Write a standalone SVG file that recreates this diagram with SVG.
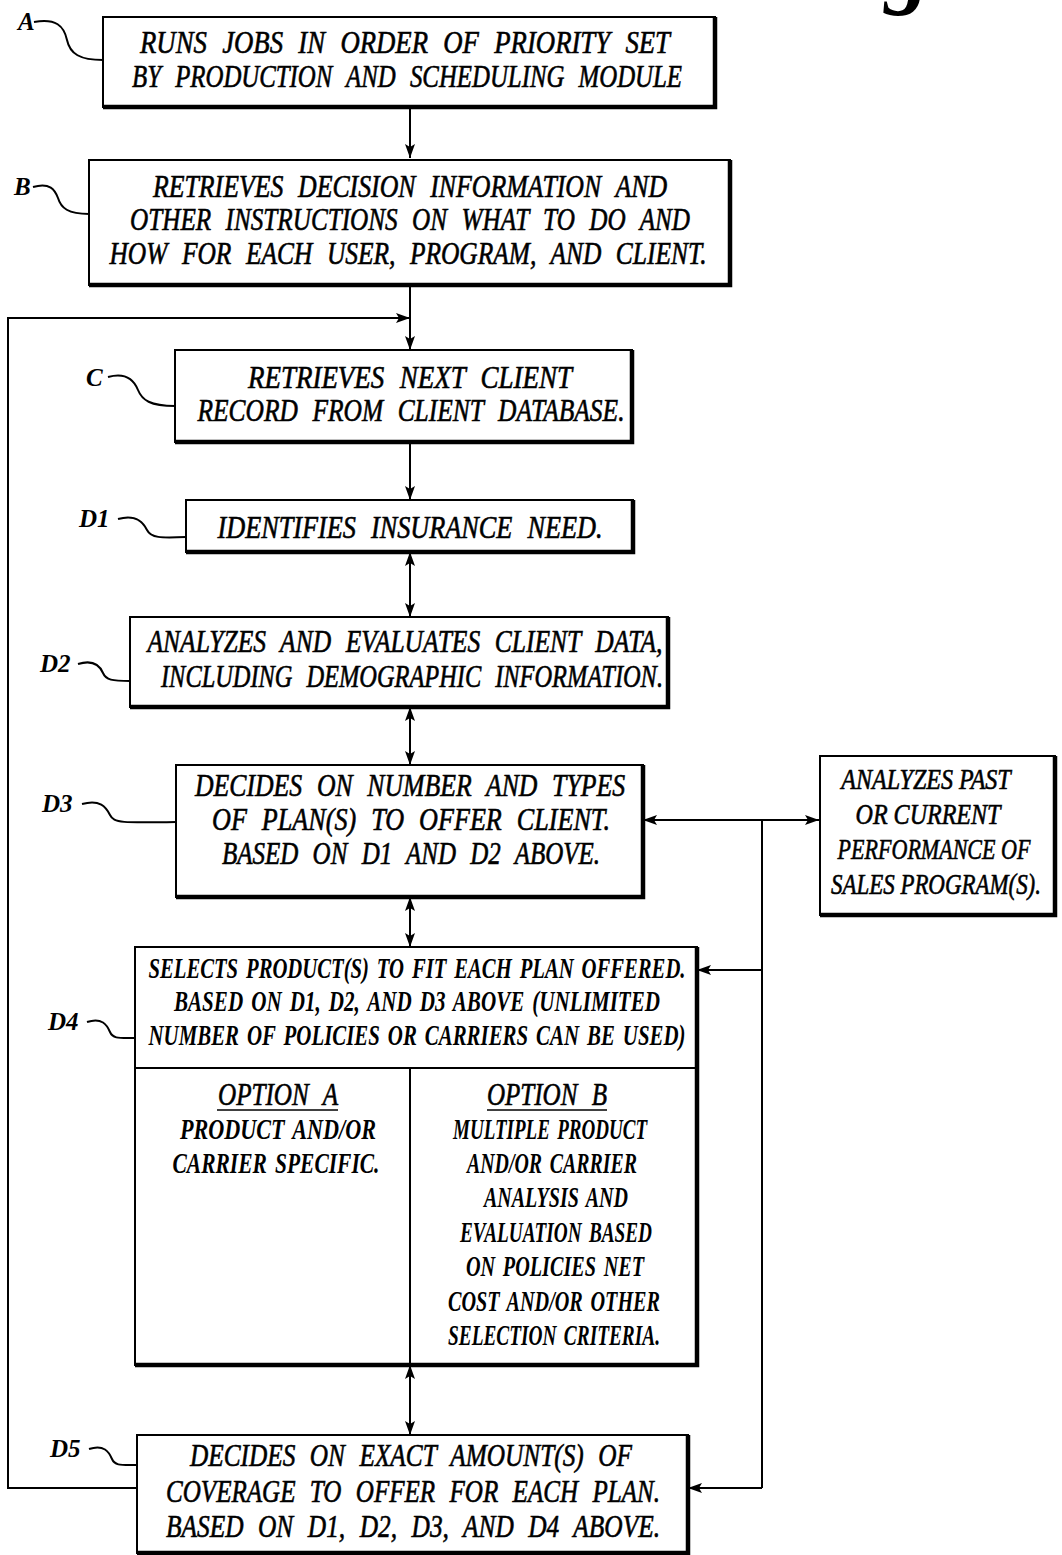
<svg xmlns="http://www.w3.org/2000/svg" width="1062" height="1555" viewBox="0 0 1062 1555">
<style>
  .bg{fill:#fff}
  .box{fill:#fff;stroke:#000;stroke-width:2}
  .shadow{fill:none;stroke:#000;stroke-width:4.5}
  .t{font-family:"Liberation Serif",serif;font-style:italic;font-size:31px;fill:#000;stroke:#000;stroke-width:0.6;text-anchor:middle;word-spacing:10px}
  .tp{font-family:"Liberation Serif",serif;font-style:italic;font-size:29px;fill:#000;stroke:#000;stroke-width:0.6;text-anchor:middle}
  .tc{font-family:"Liberation Serif",serif;font-style:italic;font-weight:bold;font-size:30px;fill:#000;text-anchor:middle;word-spacing:4px}
  .lbl{font-family:"Liberation Serif",serif;font-style:italic;font-weight:bold;font-size:25px;fill:#000}
  .lead{fill:none;stroke:#000;stroke-width:2}
  .conn{fill:none;stroke:#000;stroke-width:2}
  .fig{font-family:"Liberation Serif",serif;font-style:italic;font-weight:bold;font-size:90px;fill:#000}
</style>
<defs>
  <marker id="ah" viewBox="0 0 14 10" refX="14" refY="5" markerWidth="14" markerHeight="10" markerUnits="userSpaceOnUse" orient="auto-start-reverse">
    <path d="M0,0 L14,5 L0,10 L3,5 z" fill="#000"/>
  </marker>
</defs>
<rect class="bg" x="0" y="0" width="1062" height="1555"/>

<text class="fig" x="800" y="-3">Fig. 3</text>

<g id="connectors">
  <line class="conn" x1="410" y1="107" x2="410" y2="158" marker-end="url(#ah)"/>
  <line class="conn" x1="410" y1="285" x2="410" y2="350" marker-end="url(#ah)"/>
  <path class="conn" d="M137,1488 H8 V318 H410" marker-end="url(#ah)"/>
  <line class="conn" x1="410" y1="442" x2="410" y2="500" marker-end="url(#ah)"/>
  <line class="conn" x1="410" y1="552" x2="410" y2="617" marker-start="url(#ah)" marker-end="url(#ah)"/>
  <line class="conn" x1="410" y1="707" x2="410" y2="765" marker-start="url(#ah)" marker-end="url(#ah)"/>
  <line class="conn" x1="410" y1="897" x2="410" y2="947" marker-start="url(#ah)" marker-end="url(#ah)"/>
  <line class="conn" x1="410" y1="1365" x2="410" y2="1435" marker-start="url(#ah)" marker-end="url(#ah)"/>
  <line class="conn" x1="643" y1="820" x2="819" y2="820" marker-start="url(#ah)" marker-end="url(#ah)"/>
  <line class="conn" x1="762" y1="820" x2="762" y2="1488"/>
  <line class="conn" x1="762" y1="970" x2="697" y2="970" marker-end="url(#ah)"/>
  <line class="conn" x1="762" y1="1488" x2="688" y2="1488" marker-end="url(#ah)"/>
</g>

<g id="nodeA">
  <rect class="box" x="103" y="17" width="612" height="90"/>
  <polyline class="shadow" points="715,17 715,107 103,107"/>
  <text class="t" x="405" y="53" textLength="530" lengthAdjust="spacingAndGlyphs">RUNS JOBS IN ORDER OF PRIORITY SET</text>
  <text class="t" x="407" y="87" textLength="550" lengthAdjust="spacingAndGlyphs">BY PRODUCTION AND SCHEDULING MODULE</text>
  <text class="lbl" x="18" y="30">A</text>
  <path class="lead" d="M34,22 C56,18 64,26 67,40 C70,54 80,60 103,60"/>
</g>

<g id="nodeB">
  <rect class="box" x="89" y="160" width="641" height="125"/>
  <polyline class="shadow" points="730,160 730,285 89,285"/>
  <text class="t" x="410" y="197" textLength="514" lengthAdjust="spacingAndGlyphs">RETRIEVES DECISION INFORMATION AND</text>
  <text class="t" x="410" y="230" textLength="560" lengthAdjust="spacingAndGlyphs">OTHER INSTRUCTIONS ON WHAT TO DO AND</text>
  <text class="t" x="408" y="264" textLength="597" lengthAdjust="spacingAndGlyphs">HOW FOR EACH USER, PROGRAM, AND CLIENT.</text>
  <text class="lbl" x="14" y="195">B</text>
  <path class="lead" d="M33,187 C50,182 55,190 58,198 C61,208 68,214 89,214"/>
</g>

<g id="nodeC">
  <rect class="box" x="175" y="350" width="457" height="92"/>
  <polyline class="shadow" points="632,350 632,442 175,442"/>
  <text class="t" x="410" y="388" textLength="324" lengthAdjust="spacingAndGlyphs">RETRIEVES NEXT CLIENT</text>
  <text class="t" x="411" y="421" textLength="427" lengthAdjust="spacingAndGlyphs">RECORD FROM CLIENT DATABASE.</text>
  <text class="lbl" x="86" y="386">C</text>
  <path class="lead" d="M108,377 C126,372 134,380 138,390 C142,400 150,406 175,406"/>
</g>

<g id="nodeD1">
  <rect class="box" x="186" y="500" width="447" height="52"/>
  <polyline class="shadow" points="633,500 633,552 186,552"/>
  <text class="t" x="410" y="538" textLength="385" lengthAdjust="spacingAndGlyphs">IDENTIFIES INSURANCE NEED.</text>
  <text class="lbl" x="79" y="527">D1</text>
  <path class="lead" d="M118,519 C136,514 143,522 147,530 C151,538 160,538 186,537"/>
</g>

<g id="nodeD2">
  <rect class="box" x="130" y="617" width="538" height="90"/>
  <polyline class="shadow" points="668,617 668,707 130,707"/>
  <text class="t" x="405" y="652" textLength="515" lengthAdjust="spacingAndGlyphs">ANALYZES AND EVALUATES CLIENT DATA,</text>
  <text class="t" x="412" y="687" textLength="502" lengthAdjust="spacingAndGlyphs">INCLUDING DEMOGRAPHIC INFORMATION.</text>
  <text class="lbl" x="40" y="672">D2</text>
  <path class="lead" d="M78,664 C94,659 100,666 103,673 C106,680 112,681 130,681"/>
</g>

<g id="nodeD3">
  <rect class="box" x="176" y="765" width="467" height="132"/>
  <polyline class="shadow" points="643,765 643,897 176,897"/>
  <text class="t" x="410" y="796" textLength="430" lengthAdjust="spacingAndGlyphs">DECIDES ON NUMBER AND TYPES</text>
  <text class="t" x="411" y="830" textLength="398" lengthAdjust="spacingAndGlyphs">OF PLAN(S) TO OFFER CLIENT.</text>
  <text class="t" x="411" y="864" textLength="378" lengthAdjust="spacingAndGlyphs">BASED ON D1 AND D2 ABOVE.</text>
  <text class="lbl" x="42" y="812">D3</text>
  <path class="lead" d="M82,804 C100,799 106,807 110,815 C114,823 122,823 176,822"/>
</g>

<g id="nodePerf">
  <rect class="box" x="820" y="756" width="235" height="159"/>
  <polyline class="shadow" points="1055,756 1055,915 820,915"/>
  <text class="tp" transform="translate(926,789) scale(0.83,1)" x="0" y="0">ANALYZES PAST</text>
  <text class="tp" transform="translate(928,824) scale(0.83,1)" x="0" y="0">OR CURRENT</text>
  <text class="tp" transform="translate(934,859) scale(0.76,1)" x="0" y="0">PERFORMANCE OF</text>
  <text class="tp" transform="translate(936,894) scale(0.79,1)" x="0" y="0">SALES PROGRAM(S).</text>
</g>

<g id="nodeD4">
  <rect class="box" x="135" y="947" width="562" height="418"/>
  <polyline class="shadow" points="697,947 697,1365 135,1365"/>
  <line class="conn" x1="135" y1="1068" x2="697" y2="1068"/>
  <line class="conn" x1="410" y1="1068" x2="410" y2="1365"/>
  <text class="tc" x="417" y="978" textLength="537" lengthAdjust="spacingAndGlyphs">SELECTS PRODUCT(S) TO FIT EACH PLAN OFFERED.</text>
  <text class="tc" x="417" y="1011" textLength="486" lengthAdjust="spacingAndGlyphs">BASED ON D1, D2, AND D3 ABOVE (UNLIMITED</text>
  <text class="tc" x="417" y="1045" textLength="537" lengthAdjust="spacingAndGlyphs">NUMBER OF POLICIES OR CARRIERS CAN BE USED)</text>
  <text class="t" x="278" y="1105" textLength="120" lengthAdjust="spacingAndGlyphs">OPTION A</text>
  <line x1="217" y1="1110" x2="338" y2="1110" stroke="#000" stroke-width="1.5"/>
  <text class="tc" x="278" y="1139" textLength="196" lengthAdjust="spacingAndGlyphs">PRODUCT AND/OR</text>
  <text class="tc" x="276" y="1173" textLength="207" lengthAdjust="spacingAndGlyphs">CARRIER SPECIFIC.</text>
  <text class="t" x="547" y="1105" textLength="120" lengthAdjust="spacingAndGlyphs">OPTION B</text>
  <line x1="487" y1="1110" x2="607" y2="1110" stroke="#000" stroke-width="1.5"/>
  <text class="tc" x="550" y="1139" textLength="194" lengthAdjust="spacingAndGlyphs">MULTIPLE PRODUCT</text>
  <text class="tc" x="552" y="1173" textLength="170" lengthAdjust="spacingAndGlyphs">AND/OR CARRIER</text>
  <text class="tc" x="556" y="1207" textLength="144" lengthAdjust="spacingAndGlyphs">ANALYSIS AND</text>
  <text class="tc" x="556" y="1242" textLength="192" lengthAdjust="spacingAndGlyphs">EVALUATION BASED</text>
  <text class="tc" x="555" y="1276" textLength="178" lengthAdjust="spacingAndGlyphs">ON POLICIES NET</text>
  <text class="tc" x="554" y="1311" textLength="212" lengthAdjust="spacingAndGlyphs">COST AND/OR OTHER</text>
  <text class="tc" x="554" y="1345" textLength="212" lengthAdjust="spacingAndGlyphs">SELECTION CRITERIA.</text>
  <text class="lbl" x="48" y="1030">D4</text>
  <path class="lead" d="M87,1022 C102,1017 107,1025 110,1032 C113,1039 119,1038 135,1038"/>
</g>

<g id="nodeD5">
  <rect class="box" x="137" y="1435" width="551" height="118"/>
  <polyline class="shadow" points="688,1435 688,1553 137,1553"/>
  <text class="t" x="411" y="1466" textLength="442" lengthAdjust="spacingAndGlyphs">DECIDES ON EXACT AMOUNT(S) OF</text>
  <text class="t" x="413" y="1502" textLength="494" lengthAdjust="spacingAndGlyphs">COVERAGE TO OFFER FOR EACH PLAN.</text>
  <text class="t" x="413" y="1537" textLength="494" lengthAdjust="spacingAndGlyphs">BASED ON D1, D2, D3, AND D4 ABOVE.</text>
  <text class="lbl" x="50" y="1457">D5</text>
  <path class="lead" d="M89,1449 C104,1444 109,1452 112,1459 C115,1466 121,1465 137,1465"/>
</g>
</svg>
